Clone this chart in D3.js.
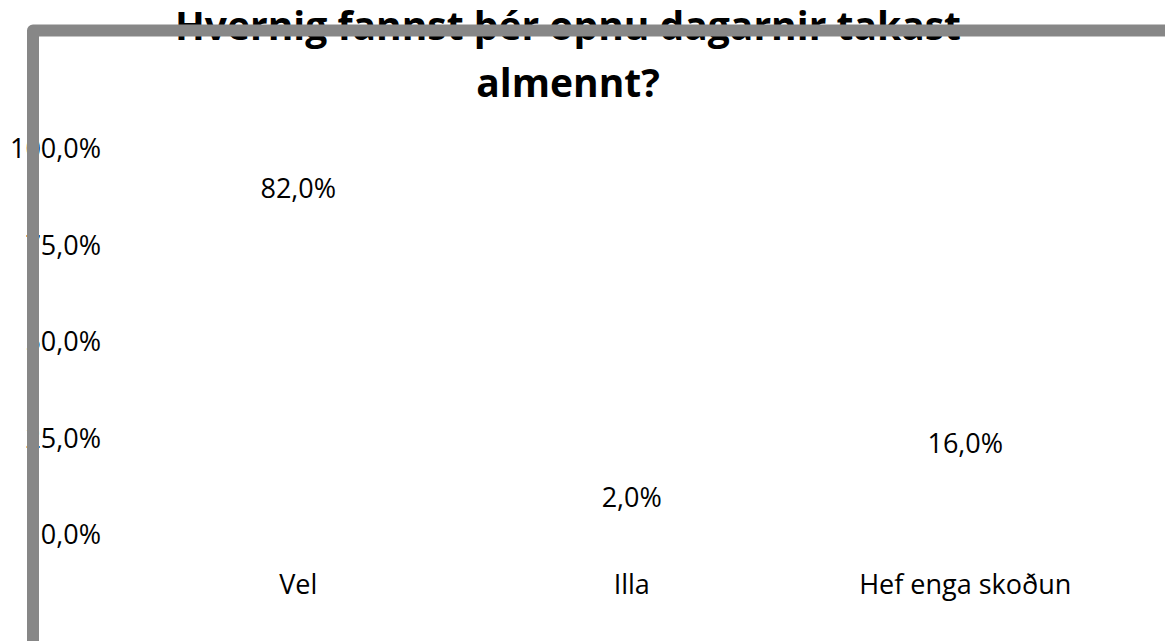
<!DOCTYPE html>
<html>
<head>
<meta charset="utf-8">
<script src="https://cdnjs.cloudflare.com/ajax/libs/d3/7.8.5/d3.min.js"></script>
<style>
  body { margin: 0; background: #fff; }
  svg { display: block; font-family: "Open Sans", sans-serif; }
</style>
</head>
<body>
<svg width="1165" height="641"></svg>
<script>
// data
var categories = ["Vel", "Illa", "Hef enga skoðun"];
var values = [0.82, 0.02, 0.16];
var yTicks = [0, 0.25, 0.5, 0.75, 1];
var titleLines = ["Hvernig fannst þér opnu dagarnir takast", "almennt?"];

var svg = d3.select("svg"),
    width = +svg.attr("width"),
    height = +svg.attr("height");

var isl = d3.formatLocale({decimal: ",", thousands: ".", grouping: [3], currency: ["", " kr."]});
var pct = isl.format(".1%");

var x = d3.scaleBand()
    .domain(categories)
    .range([131.5, 1132]);

var y = d3.scaleLinear()
    .domain([0, 1])
    .range([534, 148]);

// title
var title = svg.append("text")
    .attr("text-anchor", "middle")
    .attr("font-weight", "bold")
    .attr("font-size", 39)
    .attr("fill", "#000");
title.selectAll("tspan")
    .data(titleLines)
  .enter().append("tspan")
    .attr("x", 568)
    .attr("y", function(d, i) { return 40 + i * 57; })
    .text(function(d) { return d; });

// bars (no fill in the original)
svg.append("g").selectAll("rect")
    .data(values)
  .enter().append("rect")
    .attr("x", function(d, i) { return x(categories[i]) + x.bandwidth() * 0.2; })
    .attr("width", x.bandwidth() * 0.6)
    .attr("y", function(d) { return y(d); })
    .attr("height", function(d) { return y(0) - y(d); })
    .attr("fill", "none");

// value labels
svg.append("g").selectAll("text")
    .data(values)
  .enter().append("text")
    .attr("x", function(d, i) { return x(categories[i]) + x.bandwidth() / 2; })
    .attr("y", function(d) { return y(d) - 29; })
    .attr("dy", "0.357em")
    .attr("text-anchor", "middle")
    .attr("font-size", 27)
    .attr("fill", "#000")
    .text(function(d) { return pct(d); });

// y axis
var yAxis = svg.append("g")
    .attr("transform", "translate(101,0)")
    .call(d3.axisLeft(y).tickValues(yTicks).tickFormat(pct).tickSize(0).tickPadding(0));
yAxis.select(".domain").remove();
yAxis.selectAll("text")
    .attr("font-size", 27)
    .attr("font-family", "Open Sans, sans-serif")
    .attr("dy", "0.357em")
    .attr("fill", "#000");

// x axis
var xAxis = svg.append("g")
    .attr("transform", "translate(0,534)")
    .call(d3.axisBottom(x).tickSize(0).tickPadding(41));
xAxis.select(".domain").remove();
xAxis.selectAll("text")
    .attr("font-size", 27)
    .attr("font-family", "Open Sans, sans-serif")
    .attr("fill", "#000");

// chart border, drawn on top like the original
svg.append("rect")
    .attr("x", 33)
    .attr("y", 30.5)
    .attr("width", width + 40)
    .attr("height", height + 40)
    .attr("fill", "none")
    .attr("stroke", "#878787")
    .attr("stroke-width", 12)
    .attr("stroke-linejoin", "round");
</script>
</body>
</html>
